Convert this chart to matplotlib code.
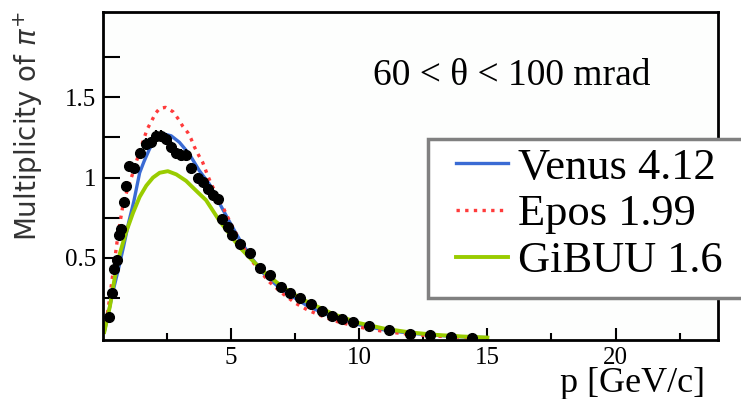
import matplotlib
matplotlib.use('Agg')
import matplotlib.pyplot as plt
from matplotlib.legend_handler import HandlerLine2D

# measured multiplicity of pi+ (60 < theta < 100 mrad)
p_data = [0.25, 0.34, 0.43, 0.53, 0.63, 0.71, 0.81, 0.89, 1.02, 1.21, 1.46, 1.67, 1.86,
          2.08, 2.27, 2.47, 2.66, 2.85, 3.05, 3.25, 3.44, 3.69, 3.90, 4.10, 4.30, 4.47,
          4.66, 4.86, 5.05, 5.34, 5.72, 6.12, 6.52, 6.93, 7.31, 7.70, 8.13, 8.54, 8.93,
          9.31, 9.74, 10.38, 11.17, 11.98, 12.75, 13.58, 14.39]
mult_data = [0.13, 0.28, 0.43, 0.49, 0.64, 0.68, 0.85, 0.95, 1.07, 1.06, 1.15, 1.21, 1.22,
             1.26, 1.26, 1.24, 1.19, 1.15, 1.14, 1.14, 1.06, 1.00, 0.97, 0.93, 0.89, 0.87,
             0.745, 0.695, 0.64, 0.59, 0.533, 0.44, 0.395, 0.32, 0.28, 0.25, 0.215, 0.17, 0.14,
             0.12, 0.105, 0.075, 0.05, 0.03, 0.022, 0.01, 0.005]
mult_err = [0.02, 0.02, 0.02, 0.02, 0.02, 0.02, 0.03, 0.03, 0.03, 0.03, 0.035, 0.035, 0.035,
            0.035, 0.035, 0.035, 0.035, 0.035, 0.035, 0.035, 0.03, 0.03, 0.03, 0.03, 0.03, 0.03,
            0.02, 0.02, 0.02, 0.02, 0.015, 0.015, 0.015, 0.01, 0.01, 0.01, 0.01, 0.01, 0.01,
            0.01, 0.01, 0.005, 0.005, 0.005, 0.005, 0.005, 0.005]

# model predictions
p_venus = [0.05, 0.2, 0.4, 0.6, 0.8, 1.0, 1.2, 1.43, 1.6, 1.82, 2.08, 2.4, 2.66, 2.98, 3.37,
           3.76, 4.15, 4.53, 4.92, 5.31, 5.8, 6.34, 7.0, 7.5, 8, 9, 10, 11, 12, 13, 14, 15]
venus = [0.04, 0.15, 0.30, 0.43, 0.57, 0.72, 0.85, 1.03, 1.10, 1.18, 1.245, 1.27, 1.26, 1.22,
         1.146, 1.043, 0.96, 0.845, 0.73, 0.62, 0.50, 0.39, 0.30, 0.25, 0.20, 0.13, 0.085,
         0.052, 0.032, 0.019, 0.01, 0.005]

p_epos = [0.05, 0.2, 0.4, 0.59, 0.79, 1.0, 1.17, 1.4, 1.72, 1.89, 2.05, 2.21, 2.44, 2.73, 2.96,
          3.11, 3.31, 3.44, 3.57, 3.73, 3.89, 4.08, 4.21, 4.47, 4.73, 5.0, 5.57, 6.0, 6.5, 7,
          7.5, 8, 9, 10, 11, 12, 13, 14, 15]
epos = [0.05, 0.18, 0.42, 0.65, 0.84, 0.95, 1.03, 1.15, 1.30, 1.35, 1.40, 1.43, 1.437, 1.41,
        1.36, 1.32, 1.28, 1.24, 1.19, 1.14, 1.095, 1.015, 0.966, 0.88, 0.80, 0.71, 0.54, 0.44,
        0.35, 0.28, 0.22, 0.175, 0.11, 0.07, 0.042, 0.025, 0.014, 0.007, 0.003]

p_gibuu = [0.05, 0.27, 0.45, 0.66, 0.9, 1.17, 1.43, 1.69, 1.95, 2.21, 2.53, 2.86, 3.24, 3.69,
           4.02, 4.53, 5.31, 5.8, 6.34, 7, 7.5, 8, 9, 10, 11, 12, 13, 14, 15]
gibuu = [0.04, 0.2, 0.37, 0.53, 0.66, 0.78, 0.88, 0.95, 1.00, 1.03, 1.04, 1.02, 0.98, 0.91,
         0.86, 0.735, 0.57, 0.49, 0.405, 0.32, 0.27, 0.225, 0.15, 0.095, 0.06, 0.037, 0.022,
         0.012, 0.005]

serif = 'Liberation Serif'
W, H = 741, 399


class ShortLine(HandlerLine2D):
    # legend line starts a bit right of the handle box, as in the original
    def get_xdata(self, legend, xdescent, ydescent, width, height, fontsize):
        x0 = -xdescent + 0.27 * width
        x1 = -xdescent + width
        return [x0, x1], [0.5 * (x0 + x1)]


fig = plt.figure(figsize=(W / 100, H / 100), dpi=100)
ax = fig.add_axes([103 / W, 1 - 340 / H, 615 / W, 328 / H])
ax.set_facecolor('#fdfefd')

l1, = ax.plot(p_venus, venus, color='#3a6bd4', lw=2.4, label='Venus 4.12', zorder=2)
l2, = ax.plot(p_epos, epos, color='#ff3b3b', lw=2.4, ls=(0, (1, 1.6)), label='Epos 1.99', zorder=2)
l3, = ax.plot(p_gibuu, gibuu, color='#99cc00', lw=2.8, label='GiBUU 1.6', zorder=2)
ax.errorbar(p_data, mult_data, yerr=mult_err, fmt='o', color='black', ms=7,
            elinewidth=1.6, capsize=0, zorder=3)

ax.set_xlim(0, 24)
ax.set_ylim(-0.01, 2.03)
ax.set_xticks([5, 10, 15, 20])
ax.set_xticks([2.5, 7.5, 12.5, 17.5, 22.5], minor=True)
ax.set_yticks([0.5, 1, 1.5])
ax.set_yticklabels(['0.5', '1', '1.5'])
ax.set_yticks([0.25, 0.75, 1.25, 1.75], minor=True)
ax.tick_params(axis='both', which='both', direction='in', width=1.5, labelsize=18, pad=5)
ax.tick_params(axis='x', which='major', length=9)
ax.tick_params(axis='x', which='minor', length=5)
ax.tick_params(axis='y', which='both', length=12)
for lab in ax.get_xticklabels() + ax.get_yticklabels():
    lab.set_family(serif)
for s in ax.spines.values():
    s.set_linewidth(2)

fig.text(512 / W, 1 - 85 / H, '60 < θ < 100 mrad', ha='center', va='baseline',
         fontsize=27, family=serif)
fig.text(705 / W, 1 - 384 / H, 'p [GeV/c]', ha='right', va='center', fontsize=26, family=serif)
fig.text(28 / W, 1 - 126 / H, 'Multiplicity of $\\pi^{+}$', rotation=90, ha='center',
         va='center', fontsize=20, color='#333333')

# legend frame runs past the right edge of the picture
fig.add_artist(plt.Rectangle((428 / W, 1 - 298 / H), 340 / W, 159 / H, transform=fig.transFigure,
                             facecolor='white', edgecolor='#808080', linewidth=2.5, zorder=4))
leg = fig.legend(handles=[l1, l2, l3], loc='upper left', bbox_to_anchor=(428 / W, 1 - 139 / H),
                 prop={'family': serif, 'size': 32}, frameon=False, handlelength=1.6,
                 handletextpad=0.23, labelspacing=0.15, borderpad=0.19, borderaxespad=0,
                 handler_map={l1: ShortLine(), l2: ShortLine(), l3: ShortLine()})
leg.set_zorder(5)

fig.savefig('out.png', dpi=100)
